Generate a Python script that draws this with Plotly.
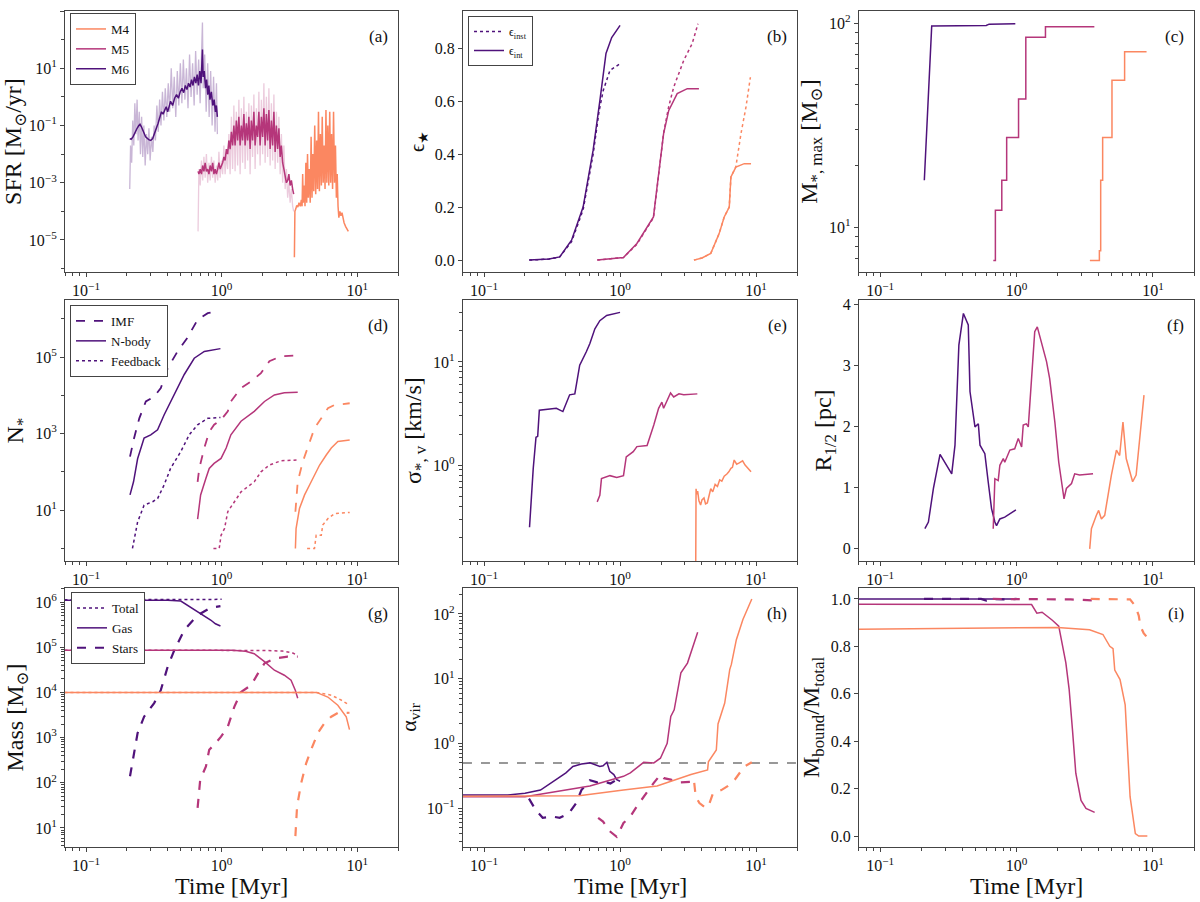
import math
import plotly.graph_objects as go

# ---------------- colours ----------------
C4 = "#fb8761"
C5 = "#b5367a"
C6 = "#4f127b"

# ---------------- tick labels ----------------
time_tickvals = [0.1, 1, 10]
time_ticktext = ["10<sup>−1</sup>", "10<sup>0</sup>", "10<sup>1</sup>"]
sfr_tickvals = [1e-5, 1e-3, 1e-1, 1e1, 1e3]
sfr_ticktext = ["10<sup>−5</sup>", "10<sup>−3</sup>", "10<sup>−1</sup>", "10<sup>1</sup>", "10<sup>3</sup>"]
mmax_tickvals = [10, 100]
mmax_ticktext = ["10<sup>1</sup>", "10<sup>2</sup>"]
nstar_tickvals = [10, 1e3, 1e5]
nstar_ticktext = ["10<sup>1</sup>", "10<sup>3</sup>", "10<sup>5</sup>"]
sig_tickvals = [1, 10]
sig_ticktext = ["10<sup>0</sup>", "10<sup>1</sup>"]
mass_tickvals = [10, 100, 1e3, 1e4, 1e5, 1e6]
mass_ticktext = ["10<sup>1</sup>", "10<sup>2</sup>", "10<sup>3</sup>", "10<sup>4</sup>", "10<sup>5</sup>", "10<sup>6</sup>"]
alpha_tickvals = [0.1, 1, 10, 100]
alpha_ticktext = ["10<sup>−1</sup>", "10<sup>0</sup>", "10<sup>1</sup>", "10<sup>2</sup>"]

# ---------------- (a) SFR ----------------
sfr6_raw_t = [0.210, 0.213, 0.217, 0.221, 0.225, 0.229, 0.233, 0.238, 0.242, 0.247, 0.252, 0.257, 0.262, 0.267,
              0.273, 0.279, 0.285, 0.291, 0.297, 0.304, 0.311, 0.318, 0.325, 0.333, 0.341, 0.349, 0.357, 0.366,
              0.375, 0.384, 0.394, 0.404, 0.414, 0.425, 0.436, 0.447, 0.459, 0.471, 0.483, 0.496, 0.509, 0.522,
              0.536, 0.550, 0.565, 0.580, 0.595, 0.611, 0.627, 0.643, 0.660, 0.677, 0.694, 0.712, 0.722, 0.731,
              0.750, 0.769, 0.789, 0.809, 0.830, 0.851, 0.872, 0.894, 0.916, 0.930]
sfr6_raw = [6e-4, 2e-2, 5e-3, 0.15, 0.02, 0.6, 0.05, 0.8, 0.03, 0.3, 0.01, 0.2, 0.008, 0.1,
            0.004, 0.05, 0.01, 0.08, 0.006, 0.04, 0.012, 0.1, 0.03, 0.5, 0.06, 0.8, 0.1, 1.5,
            0.15, 2.0, 0.2, 3.0, 0.3, 10, 0.4, 5, 0.2, 8, 0.5, 15, 0.6, 20,
            0.8, 10, 0.4, 30, 1.0, 15, 0.5, 40, 1.2, 20, 0.6, 60, 400, 2,
            30, 0.3, 15, 0.2, 8, 0.1, 5, 0.06, 3, 0.05]
sfr6_t = [0.210, 0.215, 0.222, 0.230, 0.238, 0.245, 0.250, 0.256, 0.265, 0.275, 0.290, 0.300, 0.310, 0.320,
          0.330, 0.340, 0.350, 0.360, 0.370, 0.380, 0.390, 0.400, 0.410, 0.420, 0.435, 0.450, 0.465, 0.480,
          0.495, 0.510, 0.525, 0.540, 0.555, 0.570, 0.585, 0.600, 0.615, 0.630, 0.645, 0.660, 0.675, 0.690,
          0.705, 0.715, 0.722, 0.730, 0.745, 0.760, 0.775, 0.790, 0.805, 0.820, 0.840, 0.860, 0.880, 0.900,
          0.915, 0.930]
sfr6 = [0.035, 0.033, 0.04, 0.06, 0.08, 0.1, 0.11, 0.09, 0.06, 0.04, 0.032, 0.03, 0.035, 0.05,
        0.08, 0.12, 0.2, 0.3, 0.25, 0.35, 0.45, 0.3, 0.5, 0.7, 0.5, 0.9, 1.2, 0.9,
        1.5, 2.0, 1.4, 2.5, 1.8, 3.0, 2.2, 4.0, 2.5, 5.0, 3.0, 6.0, 2.5, 8.0,
        3.0, 15, 45, 5, 8, 2, 4, 1.2, 2.5, 0.8, 1.5, 0.5, 0.8, 0.3,
        0.5, 0.2]

sfr5_t = [0.670, 0.680, 0.695, 0.710, 0.725, 0.740, 0.756, 0.772, 0.789, 0.806, 0.823, 0.841, 0.859, 0.877,
          0.896, 0.915, 0.935, 0.955, 0.975, 0.996, 1.017, 1.039, 1.061, 1.084, 1.107, 1.131, 1.155, 1.180,
          1.205, 1.231, 1.257, 1.284, 1.312, 1.340, 1.369, 1.398, 1.428, 1.459, 1.490, 1.522, 1.555, 1.588,
          1.622, 1.657, 1.692, 1.729, 1.766, 1.804, 1.842, 1.882, 1.922, 1.964, 2.006, 2.049, 2.093, 2.138,
          2.184, 2.231, 2.279, 2.328, 2.378, 2.429, 2.481, 2.534, 2.589, 2.644, 2.701, 2.759, 2.818, 2.879,
          2.941, 3.004, 3.068, 3.134, 3.200, 3.270, 3.340, 3.400]
sfr5_raw = [2e-5, 3e-3, 8e-4, 6e-3, 1.2e-3, 8e-3, 1.5e-3, 1e-2, 1e-3, 5e-3, 1.2e-3, 8e-3, 1.5e-3, 6e-3,
            1e-3, 4e-3, 1.2e-3, 1.2e-2, 1.5e-3, 6e-3, 2e-3, 2e-2, 2e-3, 1e-2, 3e-3, 0.05, 2e-3, 0.2,
            3e-3, 0.5, 2.5e-3, 0.3, 4e-3, 0.8, 2e-3, 0.4, 5e-3, 1.0, 3e-3, 0.3, 6e-3, 0.6,
            2e-3, 0.5, 8e-3, 1.2, 3e-3, 0.4, 1e-2, 1.5, 4e-3, 0.8, 1e-2, 3.0, 5e-3, 1.0,
            8e-3, 2.0, 4e-3, 0.6, 6e-3, 1.2, 3e-3, 0.3, 5e-3, 0.2, 2e-3, 0.05, 1e-3, 0.02,
            6e-4, 3e-3, 3e-4, 1e-3, 2e-4, 6e-4, 1.5e-4, 1e-4]
sfr5 = [2.5e-3, 2e-3, 3e-3, 2e-3, 4e-3, 2.5e-3, 5e-3, 2.5e-3, 3e-3, 2e-3, 4e-3, 2.5e-3, 5e-3, 2e-3,
        3e-3, 2e-3, 3e-3, 5e-3, 3e-3, 4e-3, 5e-3, 8e-3, 6e-3, 1.5e-2, 1e-2, 3e-2, 1.5e-2, 6e-2,
        2e-2, 0.1, 2e-2, 0.15, 3e-2, 0.2, 2e-2, 0.1, 3e-2, 0.25, 2e-2, 0.12, 3e-2, 0.2,
        1.5e-2, 0.15, 3e-2, 0.3, 2e-2, 0.1, 4e-2, 0.3, 2e-2, 0.2, 4e-2, 0.4, 2e-2, 0.25,
        3e-2, 0.35, 1.5e-2, 0.15, 2e-2, 0.3, 1.2e-2, 0.1, 1.5e-2, 0.08, 8e-3, 0.02, 5e-3, 3e-3,
        1.5e-3, 1e-3, 1.2e-3, 2e-3, 8e-4, 1.2e-3, 6e-4, 4e-4]

sfr4_t = [3.44, 3.47, 3.52, 3.58, 3.65, 3.72, 3.80, 3.87, 3.92, 3.96, 4.00, 4.06, 4.12, 4.18, 4.24, 4.30,
          4.36, 4.43, 4.50, 4.57, 4.64, 4.71, 4.78, 4.86, 4.94, 5.02, 5.10, 5.18, 5.26, 5.35, 5.44, 5.52,
          5.61, 5.70, 5.79, 5.88, 5.97, 6.07, 6.17, 6.27, 6.37, 6.47, 6.58, 6.69, 6.80, 6.91, 7.02, 7.12,
          7.22, 7.32, 7.45, 7.58, 7.72, 7.85, 8.00, 8.20, 8.40, 8.60]
sfr4 = [2.5e-6, 1e-4, 1.2e-4, 1.6e-4, 1.4e-4, 2e-4, 1.5e-4, 2.5e-4, 1.5e-4, 2e-3, 2e-4, 8e-4, 1.5e-4, 5e-3,
        2e-4, 1e-2, 3e-4, 3e-3, 2e-4, 4e-2, 3e-4, 1e-2, 5e-4, 0.1, 4e-4, 0.03, 6e-4, 0.3, 5e-4, 0.05,
        8e-4, 0.2, 1e-3, 0.02, 6e-4, 0.35, 1e-3, 0.1, 8e-4, 0.3, 1e-3, 0.05, 6e-4, 0.3, 1e-3, 0.02,
        3e-4, 2e-3, 1.5e-4, 6e-5, 1e-4, 7e-5, 9e-5, 5e-5, 4e-5, 3e-5, 2.5e-5, 2e-5]

# ---------------- (b) star formation efficiency ----------------
eps6_int_t = [0.215, 0.30, 0.36, 0.44, 0.535, 0.634, 0.711, 0.788, 0.868, 1.0]
eps6_int = [0.0, 0.004, 0.012, 0.075, 0.20, 0.415, 0.603, 0.78, 0.84, 0.886]
eps6_inst_t = [0.215, 0.30, 0.36, 0.44, 0.535, 0.634, 0.70, 0.752, 0.843, 1.0]
eps6_inst = [0.0, 0.004, 0.012, 0.07, 0.19, 0.40, 0.56, 0.64, 0.716, 0.741]
eps5_int_t = [0.68, 0.85, 1.06, 1.33, 1.60, 1.76, 1.87, 2.09, 2.28, 2.63, 3.12, 3.8]
eps5_int = [0.0, 0.004, 0.01, 0.063, 0.13, 0.163, 0.276, 0.477, 0.565, 0.628, 0.647, 0.647]
eps5_inst_t = [0.68, 0.85, 1.06, 1.33, 1.60, 1.76, 1.87, 2.09, 2.28, 2.48, 2.94, 3.39, 3.74]
eps5_inst = [0.0, 0.004, 0.01, 0.06, 0.125, 0.16, 0.27, 0.48, 0.58, 0.653, 0.754, 0.817, 0.892]
eps4_int_t = [3.49, 4.0, 4.64, 5.35, 5.83, 6.35, 6.53, 7.1, 8.19, 9.18]
eps4_int = [0.0, 0.008, 0.025, 0.10, 0.163, 0.20, 0.314, 0.351, 0.364, 0.364]
eps4_inst_t = [3.49, 4.0, 4.64, 5.35, 5.83, 6.35, 6.53, 7.1, 7.74, 8.43, 9.08]
eps4_inst = [0.0, 0.008, 0.025, 0.10, 0.163, 0.20, 0.314, 0.352, 0.477, 0.578, 0.69]

# ---------------- (c) max stellar mass ----------------
mmax6_t = [0.211, 0.239, 0.60, 0.63, 0.98]
mmax6 = [17, 97, 97.5, 99, 99.5]
mmax5_t = [0.676, 0.70, 0.78, 0.847, 1.035, 1.17, 1.63, 3.72]
mmax5 = [6.86, 12.1, 17, 27.5, 42.5, 85.3, 96.2, 96.2]
mmax4_t = [3.45, 4.05, 4.14, 4.28, 5.01, 6.2, 8.98]
mmax4 = [6.86, 7.67, 17, 27.5, 52.6, 72.5, 72.5]

# ---------------- (d) number of stars ----------------
n6_imf_t = [0.211, 0.226, 0.247, 0.276, 0.318, 0.356, 0.40, 0.473, 0.56, 0.665, 0.79, 0.96]
n6_imf = [250, 760, 2500, 6900, 9300, 1.55e4, 5.1e4, 1.4e5, 3.2e5, 9.5e5, 1.4e6, 1.6e6]
n6_nb_t = [0.211, 0.224, 0.24, 0.268, 0.30, 0.337, 0.377, 0.42, 0.473, 0.53, 0.628, 0.745, 0.98]
n6_nb = [25, 55, 220, 760, 930, 1260, 3100, 6900, 1.55e4, 3.5e4, 9.3e4, 1.4e5, 1.66e5]
n6_fb_t = [0.22, 0.24, 0.268, 0.31, 0.337, 0.377, 0.42, 0.50, 0.577, 0.665, 0.79, 0.98]
n6_fb = [1, 4.9, 13.5, 16.6, 20, 46, 123, 340, 930, 1700, 2500, 2630]
n5_imf_t = [0.665, 0.684, 0.745, 0.81, 0.88, 0.99, 1.11, 1.17, 1.39, 1.65, 1.95, 2.25, 2.74, 3.64]
n5_imf = [55, 123, 420, 1120, 1700, 2300, 3800, 6900, 1.55e4, 2.3e4, 3.8e4, 7.8e4, 1.05e5, 1.1e5]
n5_nb_t = [0.665, 0.684, 0.70, 0.766, 0.81, 0.88, 0.99, 1.08, 1.17, 1.39, 1.74, 2.07, 2.45, 2.9, 3.64]
n5_nb = [5.8, 16.6, 25, 68, 123, 166, 224, 420, 930, 2100, 3800, 6900, 1.02e4, 1.17e4, 1.2e4]
n5_fb_t = [0.87, 0.96, 0.99, 1.05, 1.11, 1.24, 1.39, 1.56, 1.74, 1.95, 2.25, 2.74, 3.64]
n5_fb = [1, 1, 2.2, 3.3, 9.1, 16.6, 30, 41, 55, 100, 151, 195, 204]
n4_imf_t = [3.5, 3.64, 3.97, 4.32, 4.84, 5.43, 6.08, 6.8, 8.55, 8.8]
n4_imf = [9.1, 55, 186, 420, 1380, 2500, 4600, 5600, 6200, 6200]
n4_nb_t = [3.5, 3.54, 3.75, 4.09, 4.46, 4.84, 5.28, 5.91, 6.44, 7.2, 8.8]
n4_nb = [1, 3.3, 11, 25, 46, 83, 151, 275, 420, 620, 680]
n4_fb_t = [4.27, 4.84, 4.98, 5.43, 5.57, 6.08, 6.8, 8.8]
n4_fb = [1, 1, 2.2, 2.2, 4.1, 6, 8.1, 8.7]

# ---------------- (e) velocity dispersion ----------------
sig6_t = [0.216, 0.23, 0.241, 0.248, 0.255, 0.30, 0.34, 0.38, 0.426, 0.465, 0.505, 0.566, 0.60, 0.653,
          0.71, 0.797, 1.0]
sig6 = [0.25, 0.93, 1.86, 1.9, 3.4, 3.5, 3.55, 3.3, 4.8, 4.9, 9.3, 12.6, 15.1, 20.9, 25.1, 28.2, 30.2]
sig5_t = [0.679, 0.71, 0.73, 0.843, 0.945, 1.06, 1.11, 1.25, 1.33, 1.58, 1.77, 1.92, 2.03, 2.09, 2.35,
          2.48, 2.71, 2.94, 3.7]
sig5 = [0.44, 0.51, 0.74, 0.79, 0.76, 0.79, 1.2, 1.35, 1.51, 1.55, 2.45, 3.55, 4.07, 3.55, 5.0, 4.57,
        4.9, 4.8, 4.9]
sig4_t = [3.6, 3.62, 3.66, 3.72, 3.8, 3.91, 4.0, 4.14, 4.25, 4.38, 4.5, 4.64, 4.8, 5.0, 5.2, 5.4, 5.6,
          5.83, 6.1, 6.3, 6.53, 6.7, 6.9, 7.2, 7.52, 7.96, 8.3, 8.67, 9.18]
sig4 = [0.11, 0.59, 0.52, 0.56, 0.45, 0.41, 0.46, 0.48, 0.42, 0.43, 0.52, 0.59, 0.55, 0.65, 0.62, 0.72,
        0.70, 0.78, 0.82, 0.86, 0.93, 0.95, 1.12, 1.02, 1.05, 1.10, 1.0, 0.93, 0.86]

# ---------------- (f) half-mass radius ----------------
r6_t = [0.213, 0.226, 0.246, 0.267, 0.275, 0.335, 0.354, 0.378, 0.408, 0.443, 0.456, 0.496, 0.525, 0.54,
        0.586, 0.62, 0.656, 0.694, 0.714, 0.755, 0.82, 0.99]
r6 = [0.33, 0.44, 0.99, 1.37, 1.55, 1.23, 1.70, 3.34, 3.86, 3.67, 2.58, 2.0, 2.05, 1.70, 1.56, 1.10, 0.66,
      0.44, 0.38, 0.49, 0.52, 0.64]
r5_t = [0.675, 0.694, 0.734, 0.755, 0.80, 0.82, 0.894, 0.97, 1.03, 1.09, 1.12, 1.18, 1.22, 1.29, 1.36,
        1.42, 1.52, 1.66, 1.75, 1.91, 2.04, 2.23, 2.32, 2.53, 2.67, 2.9, 3.64]
r5 = [0.33, 1.15, 1.12, 1.37, 1.48, 1.42, 1.62, 1.64, 1.81, 1.67, 2.03, 2.05, 2.0, 2.79, 3.56, 3.64, 3.40,
      3.07, 2.79, 2.08, 1.42, 0.82, 0.99, 1.07, 1.23, 1.21, 1.23]
r4_t = [3.44, 3.54, 3.85, 4.0, 4.19, 4.43, 4.69, 4.96, 5.4, 5.7, 6.03, 6.37, 7.1, 7.53, 8.6]
r4 = [0.0, 0.33, 0.55, 0.63, 0.49, 0.55, 0.88, 1.21, 1.62, 1.53, 2.08, 1.48, 1.10, 1.21, 2.52]

# ---------------- (g) masses ----------------
m6_tot_t = [0.01, 0.3, 0.6, 0.8, 1.0]
m6_tot = [1.1e6, 1.1e6, 1.12e6, 1.14e6, 1.15e6]
m6_gas_t = [0.01, 0.4, 0.5, 0.56, 0.65, 0.745, 0.83, 0.9, 0.98]
m6_gas = [1.1e6, 1.1e6, 1.05e6, 8.5e5, 6.5e5, 5.1e5, 4e5, 3.3e5, 2.95e5]
m6_st_t = [0.211, 0.226, 0.24, 0.268, 0.318, 0.356, 0.40, 0.447, 0.53, 0.665, 0.83, 0.98]
m6_st = [140, 450, 1260, 2900, 5800, 1.12e4, 3.7e4, 8.5e4, 2.4e5, 5.1e5, 7.5e5, 8.1e5]
m5_tot_t = [0.01, 1.0, 2.0, 2.8, 3.3, 3.64]
m5_tot = [8.6e4, 8.6e4, 8.5e4, 8.2e4, 7.6e4, 6.6e4]
m5_gas_t = [0.01, 1.2, 1.5, 1.74, 2.07, 2.45, 2.9, 3.25, 3.5, 3.64]
m5_gas = [8.6e4, 8.6e4, 8.1e4, 7.2e4, 4.8e4, 3.1e4, 2.4e4, 1.86e4, 1.1e4, 7.4e3]
m5_st_t = [0.665, 0.695, 0.766, 0.81, 0.88, 0.99, 1.11, 1.24, 1.39, 1.65, 1.85, 2.07, 2.45, 3.07, 3.64]
m5_st = [28, 117, 230, 540, 690, 1050, 1740, 4800, 1.02e4, 1.45e4, 2.6e4, 4.4e4, 5.6e4, 6.2e4, 6.2e4]
m4_tot_t = [0.01, 5.0, 6.43, 7.6, 8.77]
m4_tot = [1.0e4, 1.0e4, 8.7e3, 6.8e3, 5.2e3]
m4_gas_t = [0.01, 5.0, 6.07, 7.19, 8.3, 8.77]
m4_gas = [1e4, 1e4, 7.9e3, 5.2e3, 2.9e3, 1.5e3]
m4_st_t = [3.5, 3.6, 3.86, 4.2, 4.57, 5.12, 5.74, 6.43, 7.19, 8.77]
m4_st = [6.6, 30, 98, 270, 540, 1260, 2100, 2900, 3500, 3550]

# ---------------- (h) virial parameter ----------------
ALPHA_CRIT = 0.5
a6_t = [0.01, 0.15, 0.2, 0.26, 0.338, 0.40, 0.45, 0.52, 0.6, 0.66, 0.71, 0.75, 0.8, 0.84, 0.9, 0.945, 1.0]
a6 = [0.16, 0.16, 0.17, 0.19, 0.275, 0.35, 0.44, 0.48, 0.5, 0.47, 0.44, 0.45, 0.51, 0.37, 0.33, 0.275, 0.26]
a6s_t = [0.214, 0.24, 0.27, 0.32, 0.36, 0.42, 0.476, 0.52, 0.6, 0.68, 0.75, 0.85, 0.945, 1.0]
a6s = [0.14, 0.093, 0.071, 0.074, 0.071, 0.083, 0.12, 0.19, 0.27, 0.25, 0.26, 0.24, 0.275, 0.25]
a5_t = [0.01, 0.2, 0.6, 1.06, 1.19, 1.33, 1.49, 1.77, 1.98, 2.22, 2.36, 2.5, 2.64, 2.8, 3.13, 3.72]
a5 = [0.15, 0.15, 0.22, 0.31, 0.35, 0.42, 0.51, 0.5, 0.59, 1.0, 2.6, 3.3, 6.7, 12.3, 17.4, 52]
a5s_t = [0.69, 0.75, 0.84, 0.945, 1.06, 1.19, 1.33, 1.49, 1.77, 1.98, 2.1, 2.36, 2.8, 3.72]
a5s = [0.071, 0.062, 0.044, 0.036, 0.059, 0.074, 0.107, 0.15, 0.245, 0.33, 0.29, 0.275, 0.25, 0.257]
a4_t = [0.01, 0.5, 1.06, 1.87, 3.32, 4.4, 4.46, 5.1, 5.25, 5.88, 6.4, 6.58, 7.16, 8.0, 9.3]
a4 = [0.15, 0.155, 0.19, 0.22, 0.33, 0.39, 0.52, 0.79, 2.0, 4.2, 13.8, 16.6, 40, 82, 170]
a4s_t = [3.51, 3.6, 3.83, 4.29, 4.55, 4.82, 5.55, 6.22, 6.97, 8.2, 9.3]
a4s = [0.245, 0.15, 0.12, 0.1, 0.12, 0.17, 0.19, 0.22, 0.275, 0.44, 0.51]

# ---------------- (i) bound fraction ----------------
b6_t = [0.01, 0.5, 1.0]
b6 = [1.0, 1.0, 1.0]
b6s_t = [0.21, 0.4, 0.55, 0.6, 0.65, 0.8, 1.0]
b6s = [1.0, 1.0, 1.0, 0.993, 1.0, 0.998, 1.0]
b5_t = [0.01, 1.0, 1.2, 1.29, 1.41, 1.54, 1.83, 2.04, 2.3, 2.43, 2.57, 2.72, 2.97, 3.23, 3.74]
b5 = [0.978, 0.978, 0.978, 0.976, 0.94, 0.944, 0.91, 0.885, 0.73, 0.62, 0.45, 0.265, 0.15, 0.117, 0.1]
b5s_t = [0.67, 1.5, 2.5, 3.0, 3.7]
b5s = [1.0, 1.0, 0.998, 0.996, 0.993]
b4_t = [0.01, 0.1, 1.0, 2.0, 3.43, 4.3, 4.83, 5.1, 5.25, 5.74, 6.26, 6.44, 6.8, 7.43, 7.87, 9.1]
b4 = [0.868, 0.872, 0.878, 0.88, 0.87, 0.85, 0.80, 0.79, 0.70, 0.66, 0.553, 0.405, 0.166, 0.01, 0.0, 0.0]
b4s_t = [3.5, 5.0, 6.8, 7.43, 7.87, 8.1, 8.55, 8.94]
b4s = [1.0, 1.0, 0.998, 0.97, 0.93, 0.885, 0.856, 0.842]

T_MIN, T_MAX = 0.07, 20.0
panel_labels = ["(a)", "(b)", "(c)", "(d)", "(e)", "(f)", "(g)", "(h)", "(i)"]
xtitle = "Time [Myr]"

FONT = "Liberation Serif, DejaVu Serif, serif"
AX = "#444444"
TXT = "#111111"

fig = go.Figure()


def add(k, x, y, color, dash="solid", width=1.5, opacity=1.0, name=None, legend=None, shape="linear"):
    fig.add_trace(go.Scatter(
        x=x, y=y, mode="lines",
        line=dict(color=color, dash=dash, width=width, shape=shape),
        opacity=opacity, name=name if name else "",
        showlegend=legend is not None, legend=legend if legend else "legend",
        xaxis="x" if k == 1 else f"x{k}", yaxis="y" if k == 1 else f"y{k}",
        hoverinfo="skip"))


# (a)
add(1, sfr6_raw_t, sfr6_raw, C6, width=1.3, opacity=0.3)
add(1, sfr5_t, sfr5_raw, C5, width=1.3, opacity=0.25)
add(1, sfr4_t, sfr4, C4, width=1.5, name="M4", legend="legend")
add(1, sfr5_t, sfr5, C5, width=1.5, name="M5", legend="legend")
add(1, sfr6_t, sfr6, C6, width=1.5, name="M6", legend="legend")

# (b)
add(2, eps6_inst_t, eps6_inst, C6, dash="dot", name="ϵ<sub>inst</sub>", legend="legend2")
add(2, eps6_int_t, eps6_int, C6, name="ϵ<sub>int</sub>", legend="legend2")
add(2, eps5_inst_t, eps5_inst, C5, dash="dot")
add(2, eps5_int_t, eps5_int, C5)
add(2, eps4_inst_t, eps4_inst, C4, dash="dot")
add(2, eps4_int_t, eps4_int, C4)

# (c)
add(3, mmax6_t, mmax6, C6)
add(3, mmax5_t, mmax5, C5, shape="hv")
add(3, mmax4_t, mmax4, C4, shape="hv")

# (d)
add(4, n6_imf_t, n6_imf, C6, dash="dash", width=1.8, name="IMF", legend="legend3")
add(4, n6_nb_t, n6_nb, C6, name="N-body", legend="legend3")
add(4, n6_fb_t, n6_fb, C6, dash="dot", name="Feedback", legend="legend3")
add(4, n5_imf_t, n5_imf, C5, dash="dash", width=1.8)
add(4, n5_nb_t, n5_nb, C5)
add(4, n5_fb_t, n5_fb, C5, dash="dot")
add(4, n4_imf_t, n4_imf, C4, dash="dash", width=1.8)
add(4, n4_nb_t, n4_nb, C4)
add(4, n4_fb_t, n4_fb, C4, dash="dot")

# (e)
add(5, sig6_t, sig6, C6)
add(5, sig5_t, sig5, C5)
add(5, sig4_t, sig4, C4)

# (f)
add(6, r6_t, r6, C6)
add(6, r5_t, r5, C5)
add(6, r4_t, r4, C4)

# (g)
add(7, m6_tot_t, m6_tot, C6, dash="dot", name="Total", legend="legend4")
add(7, m6_gas_t, m6_gas, C6, name="Gas", legend="legend4")
add(7, m6_st_t, m6_st, C6, dash="dash", width=2.2, name="Stars", legend="legend4")
add(7, m5_tot_t, m5_tot, C5, dash="dot")
add(7, m5_gas_t, m5_gas, C5)
add(7, m5_st_t, m5_st, C5, dash="dash", width=2.2)
add(7, m4_tot_t, m4_tot, C4, dash="dot")
add(7, m4_gas_t, m4_gas, C4)
add(7, m4_st_t, m4_st, C4, dash="dash", width=2.2)

# (h)
add(8, [T_MIN, T_MAX], [ALPHA_CRIT, ALPHA_CRIT], "#777777", dash="dash", width=1.5)
add(8, a6_t, a6, C6)
add(8, a6s_t, a6s, C6, dash="dash", width=2.2)
add(8, a5_t, a5, C5)
add(8, a5s_t, a5s, C5, dash="dash", width=2.2)
add(8, a4_t, a4, C4)
add(8, a4s_t, a4s, C4, dash="dash", width=2.2)

# (i)
add(9, b6_t, b6, C6)
add(9, b6s_t, b6s, C6, dash="dash", width=2.2)
add(9, b5_t, b5, C5)
add(9, b5s_t, b5s, C5, dash="dash", width=2.2)
add(9, b4_t, b4, C4)
add(9, b4s_t, b4s, C4, dash="dash", width=2.2)

# ---------------- layout ----------------
cols = [(0.0542, 0.3317), (0.3858, 0.6642), (0.7158, 0.9950)]
rows = [(0.6984, 0.9878), (0.3780, 0.6674), (0.0610, 0.3481)]


def minor_vals(lo, hi):
    return [m * 10 ** e for e in range(lo, hi) for m in range(2, 10)]


def decade_vals(lo, hi):
    return [10.0 ** e for e in range(lo, hi)]


ytitles = ["SFR [M<sub>⊙</sub>/yr]", "ϵ<sub>★</sub>", "M<sub>*, max</sub> [M<sub>⊙</sub>]",
           "N<sub>*</sub>", "σ<sub>*, v</sub> [km/s]", "R<sub>1/2</sub> [pc]",
           "Mass [M<sub>⊙</sub>]", "α<sub>vir</sub>", "M<sub>bound</sub>/M<sub>total</sub>"]
ytitle_size = [24, 20, 24, 24, 24, 24, 24, 22, 24]
ycfg = [
    dict(type="log", range=[-6.12, 3.0], tickmode="array", tickvals=sfr_tickvals, ticktext=sfr_ticktext,
         minor=dict(tickmode="array", tickvals=decade_vals(-6, 4))),
    dict(type="linear", range=[-0.045, 0.94], dtick=0.2, tick0=0, tickformat=".1f"),
    dict(type="log", range=[0.78, 2.06], tickmode="array", tickvals=mmax_tickvals, ticktext=mmax_ticktext,
         minor=dict(tickmode="array", tickvals=minor_vals(0, 2))),
    dict(type="log", range=[-0.33, 6.49], tickmode="array", tickvals=nstar_tickvals, ticktext=nstar_ticktext,
         minor=dict(tickmode="array", tickvals=decade_vals(0, 7))),
    dict(type="log", range=[-0.93, 1.60], tickmode="array", tickvals=sig_tickvals, ticktext=sig_ticktext,
         minor=dict(tickmode="array", tickvals=minor_vals(-1, 2))),
    dict(type="linear", range=[-0.2, 4.08], dtick=1, tick0=0),
    dict(type="log", range=[0.58, 6.31], tickmode="array", tickvals=mass_tickvals, ticktext=mass_ticktext,
         minor=dict(tickmode="array", tickvals=minor_vals(0, 7))),
    dict(type="log", range=[-1.6, 2.4], tickmode="array", tickvals=alpha_tickvals, ticktext=alpha_ticktext,
         minor=dict(tickmode="array", tickvals=minor_vals(-2, 3))),
    dict(type="linear", range=[-0.046, 1.046], dtick=0.2, tick0=0, tickformat=".1f"),
]

layout = dict(
    width=1200, height=902,
    margin=dict(l=0, r=0, t=0, b=0),
    paper_bgcolor="white", plot_bgcolor="white",
    font=dict(family=FONT, size=16, color=TXT),
    showlegend=True,
)

common = dict(showline=True, linecolor=AX, linewidth=1.2, mirror=True, ticks="outside",
              ticklen=4, tickcolor=AX, showgrid=False, zeroline=False, automargin=False,
              tickfont=dict(family=FONT, size=16, color=TXT))

annotations = []
for k in range(1, 10):
    r = (k - 1) // 3
    c = (k - 1) % 3
    xa = "xaxis" if k == 1 else f"xaxis{k}"
    ya = "yaxis" if k == 1 else f"yaxis{k}"
    xref = "x" if k == 1 else f"x{k}"
    yref = "y" if k == 1 else f"y{k}"
    xd = dict(common, type="log", domain=list(cols[c]), anchor=yref,
              range=[math.log10(T_MIN), math.log10(T_MAX)],
              tickmode="array", tickvals=time_tickvals, ticktext=time_ticktext,
              minor=dict(tickmode="array", tickvals=minor_vals(-2, 2), ticks="outside", ticklen=2.5,
                         tickcolor=AX, showgrid=False))
    layout[xa] = xd
    yd = dict(common, domain=list(rows[r]), anchor=xref,
              title=dict(text=ytitles[k - 1], font=dict(family=FONT, size=ytitle_size[k - 1], color=TXT),
                         standoff=4))
    yd.update(ycfg[k - 1])
    if "minor" in yd:
        yd["minor"].update(ticks="outside", ticklen=2.5, tickcolor=AX, showgrid=False)
    layout[ya] = yd
    annotations.append(dict(text=panel_labels[k - 1], xref=f"{xref} domain", yref=f"{yref} domain",
                            x=0.975, y=0.945, xanchor="right", yanchor="top", showarrow=False,
                            font=dict(family=FONT, size=17, color=TXT)))
    if r == 2:
        annotations.append(dict(text=xtitle, xref=f"{xref} domain", yref="paper",
                                x=0.5, y=1 - 886 / 902, xanchor="center", yanchor="middle",
                                showarrow=False, font=dict(family=FONT, size=24, color=TXT)))
layout["annotations"] = annotations

leg_common = dict(xref="paper", yref="paper", xanchor="left", yanchor="top",
                  bgcolor="white", bordercolor=AX, borderwidth=1,
                  font=dict(family=FONT, size=13, color=TXT), itemwidth=30,
                  traceorder="normal", tracegroupgap=0)
layout["legend"] = dict(leg_common, x=70 / 1200, y=1 - 13 / 902)
layout["legend2"] = dict(leg_common, x=468 / 1200, y=1 - 16 / 902, font=dict(family=FONT, size=12, color=TXT))
layout["legend3"] = dict(leg_common, x=70 / 1200, y=1 - 305 / 902)
layout["legend4"] = dict(leg_common, x=71 / 1200, y=1 - 592 / 902)

fig.update_layout(layout)
fig.write_html("out.html", config={"displayModeBar": False},
               post_script="document.body.style.margin='0px';document.body.style.overflow='hidden';")
